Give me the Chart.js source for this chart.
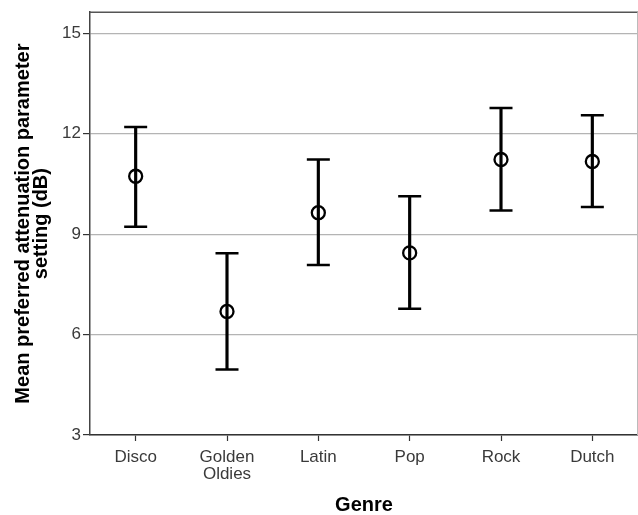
<!DOCTYPE html>
<html>
<head>
<meta charset="utf-8">
<script src="https://cdn.jsdelivr.net/npm/chart.js@4"></script>
<style>
  body { margin: 0; background: #fff; }
  #wrap { width: 638px; height: 515px; }
</style>
</head>
<body>
<div id="wrap"><canvas id="errChart" width="638" height="515"></canvas></div>
<script>
// genres and the mean / 95% CI values
var genres    = [['Disco'], ['Golden', 'Oldies'], ['Latin'], ['Pop'], ['Rock'], ['Dutch']];
var meanVals  = [10.73, 6.69, 9.64, 8.44, 11.23, 11.17];
var upperVals = [12.20, 8.43, 11.23, 10.13, 12.77, 12.55];
var lowerVals = [9.22, 4.96, 8.08, 6.77, 9.71, 9.81];
var yTicks    = [3, 6, 9, 12, 15];

var ciRanges = lowerVals.map(function (lo, i) { return [lo, upperVals[i]]; });

// frame round the plot area (top and right sides)
var framePlugin = {
    id: 'frame',
    afterDraw: function (chart) {
        var a = chart.chartArea, ctx = chart.ctx;
        var rightX = Math.min(a.right, chart.width - 0.5);
        ctx.save();
        ctx.strokeStyle = '#555';
        ctx.lineWidth = 1.5;
        ctx.beginPath();
        ctx.moveTo(a.left, a.top);
        ctx.lineTo(a.right, a.top);
        ctx.stroke();
        ctx.strokeStyle = '#bbb';
        ctx.lineWidth = 1;
        ctx.beginPath();
        ctx.moveTo(rightX, a.top);
        ctx.lineTo(rightX, a.bottom);
        ctx.stroke();
        ctx.restore();
    }
};

var fontFam = 'Liberation Sans, Arial, sans-serif';

var ctx = document.getElementById('errChart').getContext('2d');
var errChart = new Chart(ctx, {
    type: 'bar',
    data: {
        labels: genres,
        datasets: [
            {
                // vertical CI line
                data: ciRanges,
                backgroundColor: '#000',
                barThickness: 2.5,
                order: 4
            },
            {
                type: 'line',
                data: upperVals,
                showLine: false,
                pointStyle: 'line',
                pointRadius: 11.5,
                pointBorderWidth: 2.5,
                pointBorderColor: '#000',
                order: 3
            },
            {
                type: 'line',
                data: lowerVals,
                showLine: false,
                pointStyle: 'line',
                pointRadius: 11.5,
                pointBorderWidth: 2.5,
                pointBorderColor: '#000',
                order: 2
            },
            {
                type: 'line',
                data: meanVals,
                showLine: false,
                pointStyle: 'circle',
                pointRadius: 6.5,
                pointBorderWidth: 2.3,
                pointBorderColor: '#000',
                pointBackgroundColor: 'rgba(0,0,0,0)',
                order: 1
            }
        ]
    },
    options: {
        responsive: false,
        animation: false,
        layout: { autoPadding: false, padding: { top: 12, right: -3, left: 0, bottom: 0 } },
        plugins: {
            legend: { display: false },
            tooltip: { enabled: false }
        },
        scales: {
            x: {
                offset: true,
                grid: {
                    offset: false,
                    drawOnChartArea: false,
                    drawTicks: true,
                    tickLength: 6,
                    tickColor: '#333',
                    tickWidth: 1.2
                },
                border: { color: '#333', width: 1.5 },
                ticks: {
                    color: '#3a3a3a',
                    font: { family: fontFam, size: 17, lineHeight: 1.0 },
                    padding: 8,
                    maxRotation: 0
                },
                title: {
                    display: true,
                    text: 'Genre',
                    color: '#000',
                    font: { family: fontFam, size: 20, weight: 'bold', lineHeight: 1.0 },
                    padding: { top: 12, bottom: 0 }
                },
                afterFit: function (scale) {
                    scale.height = 80;
                    scale.paddingLeft = 0;
                    scale.paddingRight = 0;
                }
            },
            y: {
                min: 3,
                max: 15.63,
                afterBuildTicks: function (scale) {
                    scale.ticks = yTicks.map(function (v) { return { value: v }; });
                },
                grid: {
                    color: '#b4b4b4',
                    lineWidth: 1.2,
                    tickLength: 7,
                    tickColor: '#333',
                    tickWidth: 1.2
                },
                border: { color: '#444', width: 1.5 },
                ticks: {
                    color: '#3a3a3a',
                    font: { family: fontFam, size: 17 },
                    padding: 2
                },
                title: {
                    display: true,
                    text: ['Mean preferred attenuation parameter', 'setting (dB)'],
                    color: '#000',
                    font: { family: fontFam, size: 20, weight: 'bold', lineHeight: 0.9 },
                    padding: { top: 14, bottom: 0 }
                },
                afterFit: function (scale) { scale.width = 90; }
            }
        }
    },
    plugins: [framePlugin]
});
</script>
</body>
</html>
